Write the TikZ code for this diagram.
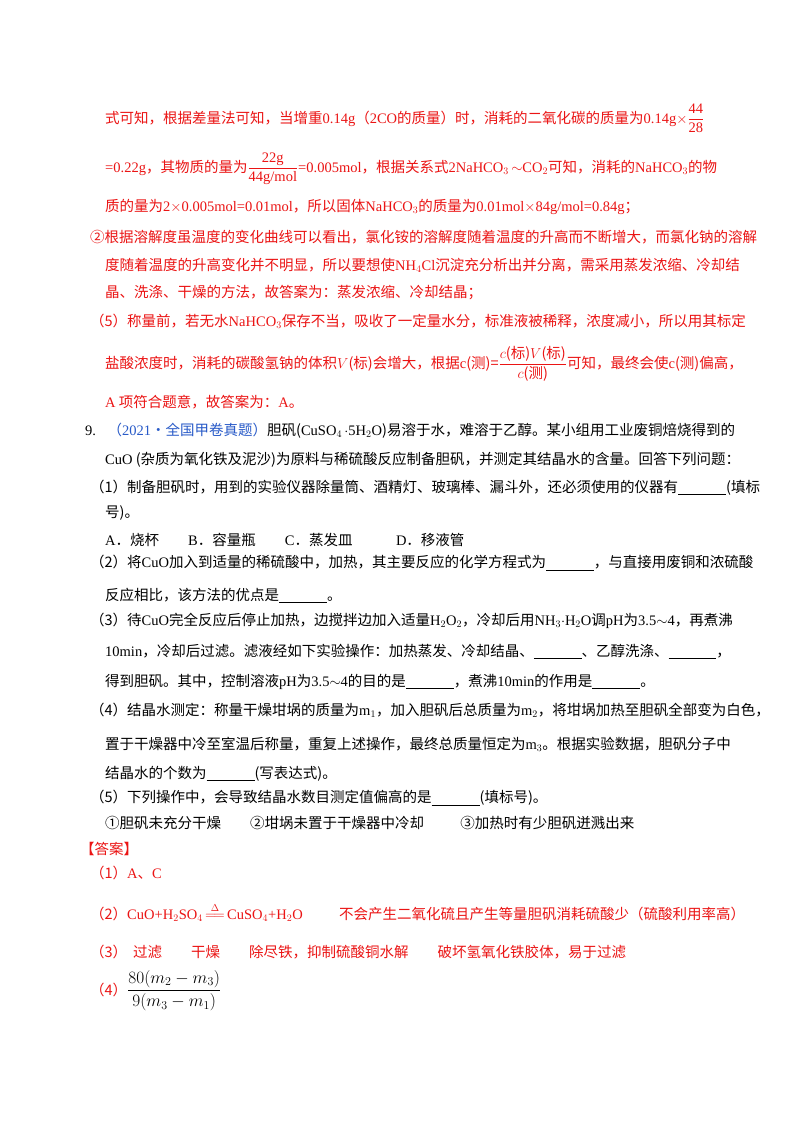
\documentclass[tikz,border=0pt]{standalone}
\usepackage{fontspec}
\usepackage{amsmath}
\setmainfont{Noto Sans CJK SC}
\newfontfamily\lat{Liberation Serif}
\definecolor{rd}{RGB}{235,20,20}
\definecolor{bl}{RGB}{40,90,200}
\newcommand\blank{\underline{\hspace{3.3em}}}
\newcommand\Lt[1]{{\lat #1}}
\begin{document}
\begin{tikzpicture}[x=1pt,y=-1pt,
  t/.style={anchor=west,inner sep=0pt,font=\fontsize{14.5}{16}\selectfont},
  r/.style={t,text=rd},
  rb/.style={r,anchor=base west}]
\useasboundingbox (0,0) rectangle (800,1132);
\fill[white] (0,0) rectangle (800,1132);
\node[rb] (l1) at (105,123) {式可知，根据差量法可知，当增重\Lt{0.14g}（\Lt{2CO}的质量）时，消耗的二氧化碳的质量为\Lt{0.14g}$\times\dfrac{\text{\Lt{44}}}{\text{\Lt{28}}}$};
\node[rb] (l2) at (105,172) {\Lt{=0.22g}，其物质的量为$\dfrac{\text{\Lt{22g}}}{\text{\Lt{44g/mol}}}$\Lt{=0.005mol}，根据关系式\Lt{2NaHCO$_3$\,$\sim$CO$_2$}可知，消耗的\Lt{NaHCO$_3$}的物};
\node[r] (l3) at (105,207) {质的量为\Lt{2}$\times$\Lt{0.005mol=0.01mol}，所以固体\Lt{NaHCO$_3$}的质量为\Lt{0.01mol}$\times$\Lt{84g/mol=0.84g}；};
\node[r] (l4) at (90,237) {②根据溶解度虽温度的变化曲线可以看出，氯化铵的溶解度随着温度的升高而不断增大，而氯化钠的溶解};
\node[r] (l5) at (105,265) {度随着温度的升高变化并不明显，所以要想使\Lt{NH$_4$Cl}沉淀充分析出并分离，需采用蒸发浓缩、冷却结};
\node[r] (l6) at (105,293) {晶、洗涤、干燥的方法，故答案为：蒸发浓缩、冷却结晶；};
\node[r] (l7) at (90,321) {（5）称量前，若无水\Lt{NaHCO$_3$}保存不当，吸收了一定量水分，标准液被稀释，浓度减小，所以用其标定};
\node[rb] (l8) at (105,368) {盐酸浓度时，消耗的碳酸氢钠的体积$V$(标)会增大，根据\Lt{c}(测)=$\dfrac{c\text{(标)}V\text{(标)}}{c\text{(测)}}$可知，最终会使\Lt{c}(测)偏高，};
\node[r] (l9) at (105,402) {\Lt{A} 项符合题意，故答案为：\Lt{A}。};
\node[t] (l10) at (85,431) {\Lt{9.}\hspace{0.8em}{\color{bl}（\Lt{2021}·全国甲卷真题）}胆矾(\Lt{CuSO$_4$\,$\cdot$5H$_2$O})易溶于水，难溶于乙醇。某小组用工业废铜焙烧得到的};
\node[t] (l11) at (105,460) {\Lt{CuO} (杂质为氧化铁及泥沙)为原料与稀硫酸反应制备胆矾，并测定其结晶水的含量。回答下列问题：};
\node[t] (l12) at (90,488) {（1）制备胆矾时，用到的实验仪器除量筒、酒精灯、玻璃棒、漏斗外，还必须使用的仪器有\blank(填标};
\node[t] (l13) at (105,513) {号)。};
\node[t] (l14) at (105,540) {\Lt{A}．烧杯\hspace{2em}\Lt{B}．容量瓶\hspace{2em}\Lt{C}．蒸发皿\hspace{3em}\Lt{D}．移液管};
\node[t] (l15) at (90,563) {（2）将\Lt{CuO}加入到适量的稀硫酸中，加热，其主要反应的化学方程式为\blank，与直接用废铜和浓硫酸};
\node[t] (l16) at (105,596) {反应相比，该方法的优点是\blank。};
\node[t] (l17) at (90,621) {（3）待\Lt{CuO}完全反应后停止加热，边搅拌边加入适量\Lt{H$_2$O$_2$}，冷却后用\Lt{NH$_3$$\cdot$H$_2$O}调\Lt{pH}为\Lt{3.5$\sim$4}，再煮沸};
\node[t] (l18) at (105,652) {\Lt{10min}，冷却后过滤。滤液经如下实验操作：加热蒸发、冷却结晶、\blank、乙醇洗涤、\blank，};
\node[t] (l19) at (105,682) {得到胆矾。其中，控制溶液\Lt{pH}为\Lt{3.5$\sim$4}的目的是\blank，煮沸\Lt{10min}的作用是\blank。};
\node[t] (l20) at (90,710) {（4）结晶水测定：称量干燥坩埚的质量为\Lt{m$_1$}，加入胆矾后总质量为\Lt{m$_2$}，将坩埚加热至胆矾全部变为白色，};
\node[t] (l21) at (105,744) {置于干燥器中冷至室温后称量，重复上述操作，最终总质量恒定为\Lt{m$_3$}。根据实验数据，胆矾分子中};
\node[t] (l22) at (105,774) {结晶水的个数为\blank(写表达式)。};
\node[t] (l23) at (90,798) {（5）下列操作中，会导致结晶水数目测定值偏高的是\blank(填标号)。};
\node[t] (l24) at (105,823) {①胆矾未充分干燥\hspace{2em}②坩埚未置于干燥器中冷却\hspace{2.5em}③加热时有少胆矾迸溅出来};
\node[r] (l25) at (80,849) {【答案】};
\node[r] (l26) at (90,873) {（1）\Lt{A}、\Lt{C}};
\node[r] (l27) at (90,912) {（2）\Lt{CuO+H$_2$SO$_4$}\,$\overset{\Delta}{=\!=}$\,\Lt{CuSO$_4$+H$_2$O}\hspace{2.5em}不会产生二氧化硫且产生等量胆矾消耗硫酸少（硫酸利用率高）};
\node[r] (l28) at (90,952) {（3）\hspace{0.4em}过滤\hspace{2em}干燥\hspace{2em}除尽铁，抑制硫酸铜水解\hspace{2em}破坏氢氧化铁胶体，易于过滤};
\node[rb] (l29) at (90,995) {（4）{\color{black}\fontsize{17}{20}\selectfont$\dfrac{80(m_2-m_3)}{9(m_3-m_1)}$}};
\end{tikzpicture}
\end{document}
